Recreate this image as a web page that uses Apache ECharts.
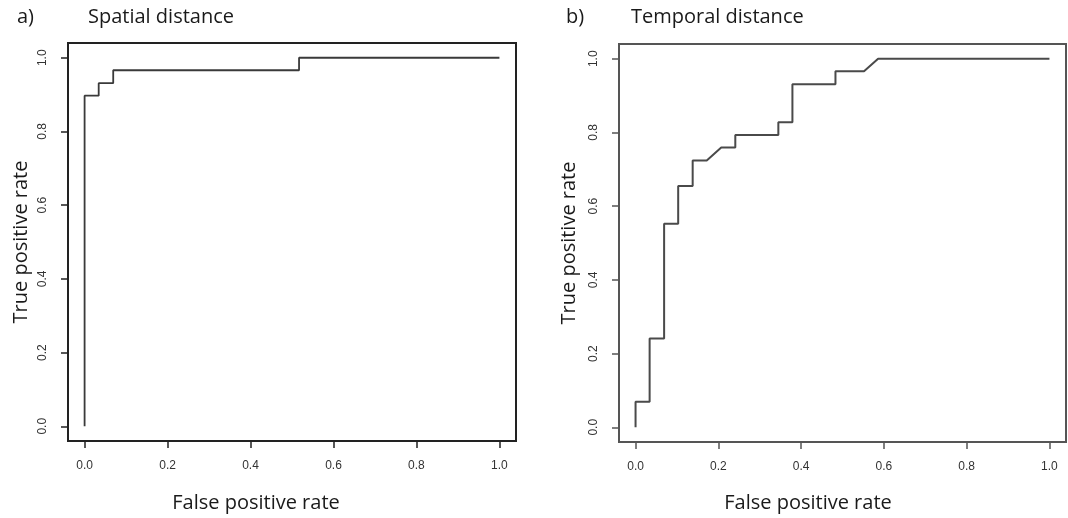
<!DOCTYPE html>
<html>
<head>
<meta charset="utf-8">
<script src="https://cdn.jsdelivr.net/npm/echarts@6/dist/echarts.min.js"></script>
<style>
  html, body { margin: 0; padding: 0; background: #fff; }
  #chart { width: 1068px; height: 518px; }
</style>
</head>
<body>
<div id="chart"></div>
<script>
// tick labels shared by both panels
const ticks = [0, 0.2, 0.4, 0.6, 0.8, 1.0];

// a) Spatial distance ROC curve
const spatialFpr = [0, 0, 0.034, 0.034, 0.069, 0.069, 0.517, 0.517, 1.0];
const spatialTpr = [0, 0.897, 0.897, 0.931, 0.931, 0.966, 0.966, 1.0, 1.0];

// b) Temporal distance ROC curve
const temporalFpr = [0, 0, 0.034, 0.034, 0.069, 0.069, 0.103, 0.103, 0.138, 0.138, 0.172, 0.207,
  0.241, 0.241, 0.345, 0.345, 0.379, 0.379, 0.483, 0.483, 0.552, 0.586, 1.0];
const temporalTpr = [0, 0.069, 0.069, 0.241, 0.241, 0.552, 0.552, 0.655, 0.655, 0.724, 0.724, 0.759,
  0.759, 0.793, 0.793, 0.828, 0.828, 0.931, 0.931, 0.966, 0.966, 1.0, 1.0];

const zip = (xs, ys) => xs.map((x, i) => [x, ys[i]]);

const tickFont = 'Liberation Sans, Arial, sans-serif';
const titleFont = 'Open Sans, Lato, sans-serif';

function xAxisFor(gridIndex, color) {
  return {
    type: 'value', gridIndex, min: -0.04, max: 1.04,
    axisLine: { show: true, onZero: false, lineStyle: { color, width: 2 } },
    axisTick: { show: true, customValues: ticks, length: 7, lineStyle: { color, width: 1.5 } },
    axisLabel: { customValues: ticks, formatter: v => v.toFixed(1), margin: 19, color: '#333', fontSize: 12, fontFamily: tickFont },
    splitLine: { show: false }
  };
}

function yAxisFor(gridIndex, color, gap) {
  return {
    type: 'value', gridIndex, min: -0.04, max: 1.04,
    axisLine: { show: true, onZero: false, lineStyle: { color, width: 2 } },
    axisTick: { show: true, customValues: ticks, length: 7, lineStyle: { color, width: 1.5 } },
    axisLabel: { customValues: ticks, formatter: v => v.toFixed(1), rotate: 90, margin: 19, color: '#333', fontSize: 12, fontFamily: tickFont },
    splitLine: { show: false },
    name: 'True positive rate', nameLocation: 'middle', nameGap: gap,
    nameTextStyle: { fontSize: 20, color: '#1a1a1a', fontFamily: titleFont }
  };
}

const chart = echarts.init(document.getElementById('chart'));
chart.setOption({
  backgroundColor: '#fff',
  animation: false,
  grid: [
    { left: 68, top: 43, width: 448, height: 398, show: true, borderColor: '#222', borderWidth: 2, backgroundColor: 'transparent' },
    { left: 619, top: 44, width: 447, height: 398, show: true, borderColor: '#555', borderWidth: 2, backgroundColor: 'transparent' }
  ],
  xAxis: [xAxisFor(0, '#222'), xAxisFor(1, '#555')],
  yAxis: [yAxisFor(0, '#222', 37), yAxisFor(1, '#555', 40)],
  graphic: [
    { type: 'text', left: 17, top: 7, style: { text: 'a)', fontSize: 20, fill: '#1a1a1a', fontFamily: titleFont } },
    { type: 'text', left: 88, top: 7, style: { text: 'Spatial distance', fontSize: 20, fill: '#1a1a1a', fontFamily: titleFont } },
    { type: 'text', left: 566, top: 7, style: { text: 'b)', fontSize: 20, fill: '#1a1a1a', fontFamily: titleFont } },
    { type: 'text', left: 631, top: 7, style: { text: 'Temporal distance', fontSize: 20, fill: '#1a1a1a', fontFamily: titleFont } },
    { type: 'text', x: 256, y: 503, style: { text: 'False positive rate', fontSize: 20, fill: '#1a1a1a', fontFamily: titleFont, align: 'center', verticalAlign: 'middle' } },
    { type: 'text', x: 808, y: 503, style: { text: 'False positive rate', fontSize: 20, fill: '#1a1a1a', fontFamily: titleFont, align: 'center', verticalAlign: 'middle' } }
  ],
  series: [
    {
      type: 'line', xAxisIndex: 0, yAxisIndex: 0, showSymbol: false, silent: true,
      lineStyle: { color: '#3a3a3a', width: 1.8 },
      data: zip(spatialFpr, spatialTpr)
    },
    {
      type: 'line', xAxisIndex: 1, yAxisIndex: 1, showSymbol: false, silent: true,
      lineStyle: { color: '#4a4a4a', width: 2 },
      data: zip(temporalFpr, temporalTpr)
    }
  ]
});
</script>
</body>
</html>
